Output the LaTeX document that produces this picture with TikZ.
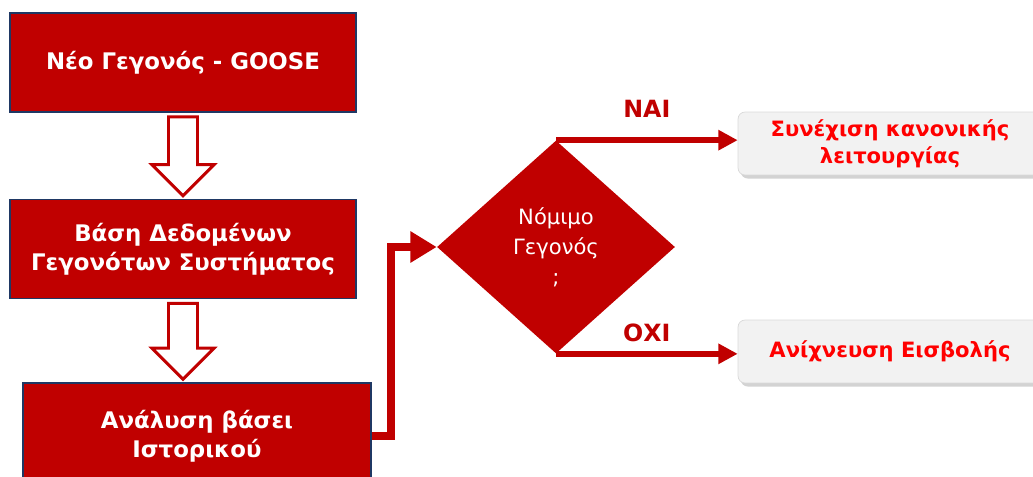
\documentclass[tikz,border=0pt]{standalone}
\usepackage{fontspec}
\setmainfont{DejaVu Sans}
\usetikzlibrary{shapes.geometric,arrows.meta,calc,shadows}
\definecolor{dunkelrot}{HTML}{C00000}
\definecolor{rahmen}{HTML}{1F3864}
\definecolor{hellrot}{HTML}{FF0000}
\definecolor{hellgrau}{HTML}{F2F2F2}

\begin{document}
\begin{tikzpicture}[
    x=0.02cm, y=-0.02cm,
    font=\fontsize{13}{16.4}\selectfont\bfseries,
    box/.style={draw=rahmen, line width=0.9pt, fill=dunkelrot, text=white, align=center, minimum width=6.92cm, minimum height=1.98cm},
    ziel/.style={draw=black!15, fill=hellgrau, rounded corners=4pt, text=hellrot, align=center, minimum width=6.08cm, minimum height=1.26cm, font=\fontsize{12}{15.3}\selectfont\bfseries, drop shadow={shadow xshift=1.5pt, shadow yshift=-2pt, opacity=0.35}},
    hohl/.style={draw=dunkelrot, fill=white, line width=1.7pt, line join=miter},
    pfeil/.style={draw=dunkelrot, line width=3.4pt, -{Triangle[length=11pt,width=11pt]}},
    antwort/.style={text=dunkelrot, font=\fontsize{13.5}{15}\selectfont\bfseries}
  ]
  \useasboundingbox (0,0) rectangle (1033,476);

  \node[box] (neo) at (183,62.5) {Νέο Γεγονός - GOOSE};
  \node[box] (basi) at (183,249) {Βάση Δεδομένων\\Γεγονότων Συστήματος};
  \node[box, minimum width=6.96cm, minimum height=2.12cm] (analysi) at (197,436) {Ανάλυση βάσει\\Ιστορικού};

  \node[diamond, fill=dunkelrot, text=white, minimum width=4.76cm, minimum height=4.26cm, inner sep=0pt, align=center, font=\fontsize{12}{17}\selectfont] (entsch) at (556,247) {Νόμιμο\\Γεγονός\\;};

  \node[ziel] (weiter) at (890,143.5) {Συνέχιση κανονικής\\λειτουργίας};
  \node[ziel] (eisvoli) at (890,351.5) {Ανίχνευση Εισβολής};

  \foreach \a/\b in {neo/basi, basi/analysi}
    \draw[hohl] ($(\a.south)+(-14.5,4)$) -- ($(\a.south)+(14.5,4)$) -- ($(\a.south |- \b.north)+(14.5,-34)$) -- ($(\a.south |- \b.north)+(31,-34)$) -- ($(\a.south |- \b.north)+(0,-3)$) -- ($(\a.south |- \b.north)+(-31,-34)$) -- ($(\a.south |- \b.north)+(-14.5,-34)$) -- cycle;

  \draw[pfeil, line width=4.5pt, -{Triangle[length=15pt,width=17pt]}] (analysi.east) -- ++(19,0) |- (entsch.west);
  \draw[pfeil] (entsch.north) -- node[antwort, above=8pt] {ΝΑΙ} (entsch.north -| weiter.west);
  \draw[pfeil] (entsch.south) -- node[antwort, above=2pt] {ΟΧΙ} (entsch.south -| eisvoli.west);
\end{tikzpicture}
\end{document}
